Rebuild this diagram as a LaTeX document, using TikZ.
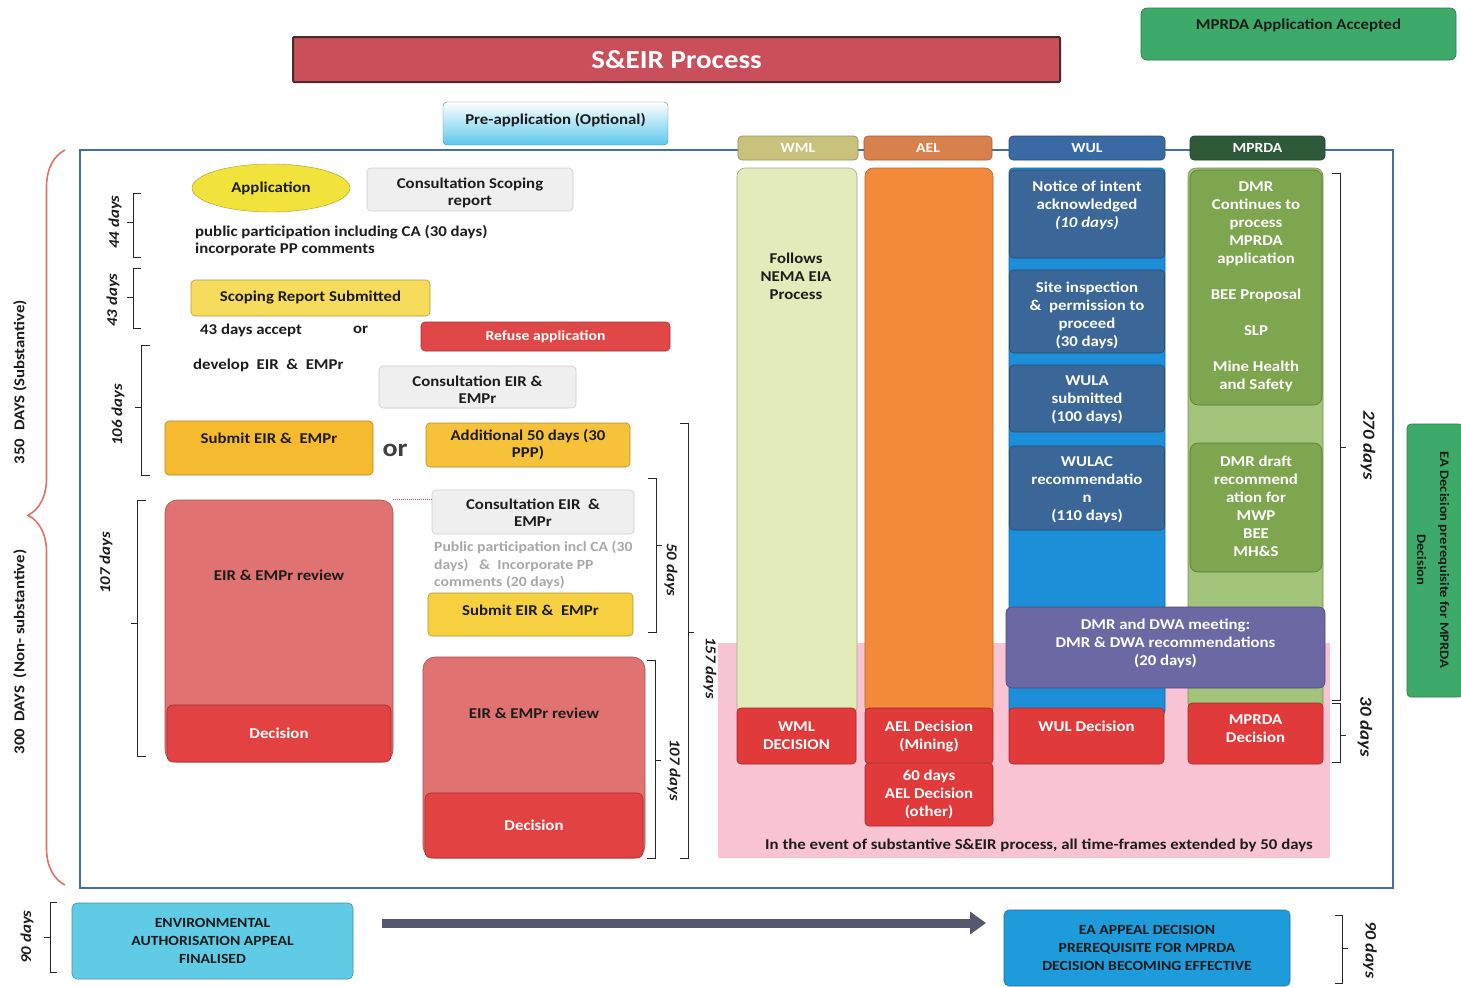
\documentclass[tikz,border=0pt]{standalone}
\usepackage{fontspec}
\setmainfont{Carlito}[FakeStretch=1.12]
\usetikzlibrary{decorations.pathreplacing,arrows.meta,shapes.geometric}
\definecolor{dark}{HTML}{1C1C1C}
\definecolor{titleRed}{HTML}{C9505A}
\definecolor{titleBorder}{HTML}{4A2A2A}
\definecolor{accGreen}{HTML}{3DAA6A}
\definecolor{preBlue}{HTML}{5CC8EC}
\definecolor{frameBlue}{HTML}{44709C}
\definecolor{wmlHead}{HTML}{C8C27C}
\definecolor{aelHead}{HTML}{D8804C}
\definecolor{wulHead}{HTML}{3A6AA4}
\definecolor{mpHead}{HTML}{2E5A3A}
\definecolor{wmlCol}{HTML}{E4EBBA}
\definecolor{aelCol}{HTML}{F28A3A}
\definecolor{wulCol}{HTML}{1D8FD8}
\definecolor{mpCol}{HTML}{A2C47A}
\definecolor{wulBox}{HTML}{3B6698}
\definecolor{mpBox}{HTML}{7DA64E}
\definecolor{purpleC}{HTML}{6B68A4}
\definecolor{decRed}{HTML}{E03A3A}
\definecolor{pinkC}{HTML}{F8C4D4}
\definecolor{appY}{HTML}{F2E23C}
\definecolor{scopY}{HTML}{F6DB5C}
\definecolor{subY}{HTML}{F6BA2E}
\definecolor{addY}{HTML}{F6C23A}
\definecolor{sub2Y}{HTML}{F6D040}
\definecolor{refuseC}{HTML}{E04848}
\definecolor{reviewC}{HTML}{E07272}
\definecolor{reviewD}{HTML}{E24242}
\definecolor{greyBox}{HTML}{EFEFEF}
\definecolor{greyTxt}{HTML}{A8A8A8}
\definecolor{envC}{HTML}{60CBE4}
\definecolor{eaC}{HTML}{1E9BDA}
\definecolor{arrowC}{HTML}{55586E}
\definecolor{braceRed}{HTML}{E0706A}
\begin{document}
\begin{tikzpicture}[x=1pt,y=-1pt,
  box/.style={draw=#1!72!black, fill=#1, rounded corners=4pt, line width=0.6pt, inner sep=1pt},
  sz/.style 2 args={minimum width=#1pt, minimum height=#2pt},
  tx/.style={font=\bfseries\fontsize{15}{17.5}\selectfont, align=center, inner sep=0pt, text=dark},
  wt/.style={tx, text=white},
  wt18/.style={wt, font=\bfseries\fontsize{15}{18}\selectfont},
  lt/.style={font=\bfseries\fontsize{15}{17}\selectfont, inner sep=0pt, text=dark, anchor=west},
  brk/.style={draw=black!85, line width=0.8pt},
  dl/.style={font=\bfseries\itshape\fontsize{15}{17}\selectfont, inner sep=0pt, text=dark},
]
\useasboundingbox (0,0) rectangle (1461,986);
\fill[white] (0,0) rectangle (1461,986);

% title and top boxes
\node[box=titleRed, draw=titleBorder, line width=2pt, rounded corners=1pt, sz={767}{45}, wt, font=\bfseries\fontsize{26}{28}\selectfont] (title) at (676.5,59.5) {S\&EIR Process};
\node[box=accGreen, sz={315}{52}, rounded corners=6pt] (acc) at (1298.5,34) {};
\node[tx] (accT) at (1298.5,25) {MPRDA Application Accepted};
\node[draw=preBlue!70!black, rounded corners=4pt, top color=white, bottom color=preBlue, sz={225}{43}] (pre) at (555.5,123.5) {};
\node[tx] (preT) at (555.5,120) {Pre-application (Optional)};

% main frame
\node[draw=frameBlue, line width=2.5pt, sz={1313}{738}, inner sep=0pt] (frame) at (736.5,519) {};

% pink band
\fill[pinkC] (718,643) rectangle (1330,858);
\node[tx, font=\bfseries\fontsize{15}{17}\selectfont] (note) at (1039,845) {In the event of substantive S\&EIR process, all time-frames extended by 50 days};

% columns
\node[box=wmlCol, sz={120}{547}, rounded corners=8pt] (cWML) at (797,441.5) {};
\node[box=aelCol, sz={128}{547}, rounded corners=8pt] (cAEL) at (929,441.5) {};
\node[box=wulCol, sz={156}{547}] (cWUL) at (1087,441.5) {};
\node[box=mpCol, sz={135}{544}, rounded corners=8pt] (cMP) at (1255.5,440) {};

% headers
\node[box=wmlHead, sz={120}{24}, wt, font=\bfseries\fontsize{14}{16}\selectfont] (hWML) at (798,148) {WML};
\node[box=aelHead, sz={128}{24}, wt, font=\bfseries\fontsize{14}{16}\selectfont] (hAEL) at (928,148) {AEL};
\node[box=wulHead, sz={156}{24}, wt, font=\bfseries\fontsize{14}{16}\selectfont] (hWUL) at (1087,148) {WUL};
\node[box=mpHead, sz={135}{24}, wt, font=\bfseries\fontsize{14}{16}\selectfont] (hMP) at (1257.5,148) {MPRDA};

\node[tx, font=\bfseries\fontsize{15}{18}\selectfont] (wmlT) at (796,276) {Follows\\NEMA EIA\\Process};

% WUL boxes
\node[box=wulBox, sz={155}{88}] (w1) at (1087,214) {};
\node[wt18] (w1t) at (1087,205) {Notice of intent\\acknowledged\\\textit{(10 days)}};
\node[box=wulBox, sz={155}{83}] (w2) at (1087,311.5) {};
\node[wt18] (w2t) at (1087,315) {Site inspection\\\&~ permission to\\proceed\\(30 days)};
\node[box=wulBox, sz={155}{67}] (w3) at (1087,398.5) {};
\node[wt18] (w3t) at (1087,399.5) {WULA\\submitted\\(100 days)};
\node[box=wulBox, sz={155}{84}] (w4) at (1087,488) {};
\node[wt18] (w4t) at (1087,490) {WULAC\\recommendatio\\n\\(110 days)};

% MPRDA boxes
\node[box=mpBox, sz={132}{235}, rounded corners=8pt] (mp1) at (1256,287.5) {};
\node[wt18] (mp1t) at (1256,286.5) {DMR\\Continues to\\process\\MPRDA\\application\\[18pt]BEE Proposal\\[18pt]SLP\\[18pt]Mine Health\\and Safety};
\node[box=mpBox, sz={132}{129}, rounded corners=8pt] (mp2) at (1256,507.5) {};
\node[wt18] (mp2t) at (1256,506) {DMR draft\\recommend\\ation for\\MWP\\BEE\\MH\&S};

% purple meeting
\node[box=purpleC, sz={319}{81}, rounded corners=6pt] (meet) at (1165.5,647.5) {};
\node[wt18] (meetT) at (1165.5,643) {DMR and DWA meeting:\\DMR \& DWA recommendations\\(20 days)};

% decisions
\node[box=decRed, sz={119}{56}, wt18] (dWML) at (796.5,736) {WML\\DECISION};
\node[box=decRed, sz={128}{56}, wt18] (dAEL) at (929,736) {AEL Decision\\(Mining)};
\node[box=decRed, sz={128}{63}, wt18] (dAEL2) at (929,794.5) {60 days\\AEL Decision\\(other)};
\node[box=decRed, sz={155}{56}] (dWUL) at (1086.5,736) {};
\node[wt18] (dWULt) at (1086.5,726) {WUL Decision};
\node[box=decRed, sz={135}{61}] (dMP) at (1255.5,733.5) {};
\node[wt18] (dMPt) at (1255.5,729) {MPRDA\\Decision};

% left side process
\node[draw=appY!70!black, fill=appY, ellipse, sz={158}{48}, tx] (app) at (271,188) {Application};
\node[box=greyBox, draw=black!20, sz={206}{43}] (cs) at (470,189.5) {};
\node[tx, font=\bfseries\fontsize{15}{17}\selectfont] (cst) at (470,193) {Consultation Scoping\\report};
\node[lt] (pp1) at (195,232) {public participation including CA (30 days)};
\node[lt] (pp2) at (195,249) {incorporate PP comments};
\node[box=scopY, sz={239}{36}, tx] (scop) at (310.5,298) {Scoping Report Submitted};
\node[lt] (acc43) at (200,330) {43 days accept};
\node[lt] (or1) at (353,330) {or};
\node[box=refuseC, sz={249}{29}, wt, font=\bfseries\fontsize{14}{16}\selectfont] (refuse) at (545.5,336.5) {Refuse application};
\node[lt] (dev) at (193,365) {develop~ EIR~ \&~ EMPr};
\node[box=greyBox, draw=black!20, sz={197}{42}] (ce1) at (477.5,387) {};
\node[tx, font=\bfseries\fontsize{15}{17}\selectfont] (ce1t) at (477.5,390) {Consultation EIR \&\\EMPr};
\node[box=subY, sz={208}{54}] (sub1) at (269,448) {};
\node[tx] (sub1t) at (269,438) {Submit EIR \&~ EMPr};
\node[tx, font=\bfseries\fontsize{25}{27}\selectfont, text=black!75] (or2) at (395,450) {or};
\node[box=addY, sz={204}{44}, tx, font=\bfseries\fontsize{15}{17}\selectfont] (add50) at (528,445) {Additional 50 days (30\\PPP)};

\node[box=reviewC, sz={228}{262}, rounded corners=12pt] (rev1) at (279,631) {};
\node[box=reviewD, sz={224}{57}, rounded corners=6pt, wt] (dec1) at (279,733.5) {Decision};
\node[tx] (rev1t) at (279,575) {EIR \& EMPr review};

\node[box=greyBox, draw=black!20, sz={202}{44}] (ce2) at (533,512) {};
\node[tx, font=\bfseries\fontsize{15}{17}\selectfont] (ce2t) at (533,512.5) {Consultation EIR~ \&\\EMPr};
\draw[draw=reviewD, densely dotted, line width=1pt] (rev1.north east) -- (rev1.north east -| ce2.west);
\node[lt, text=greyTxt, font=\bfseries\fontsize{14}{17}\selectfont] (g1) at (434,547) {Public participation incl CA (30};
\node[lt, text=greyTxt, font=\bfseries\fontsize{14}{17}\selectfont] (g2) at (434,565) {days)~~ \&~ Incorporate PP};
\node[lt, text=greyTxt, font=\bfseries\fontsize{14}{17}\selectfont] (g3) at (434,582) {comments (20 days)};
\node[box=sub2Y, sz={205}{43}] (sub2) at (530.5,614.5) {};
\node[tx] (sub2t) at (530.5,610) {Submit EIR \&~ EMPr};

\node[box=reviewC, sz={222}{201}, rounded corners=12pt] (rev2) at (534,757.5) {};
\node[box=reviewD, sz={218}{65}, rounded corners=6pt, wt] (dec2) at (534,825.5) {Decision};
\node[tx] (rev2t) at (534,713) {EIR \& EMPr review};

% big brace
\draw[draw=braceRed, line width=1.6pt, decorate, decoration={brace, amplitude=37pt, aspect=0.503}] (65,885) -- (65,150);
\node[font=\bfseries\fontsize{15}{17}\selectfont, rotate=90, text=dark, inner sep=0pt] (d350) at (20,382) {350~~DAYS (Substantive)};
\node[font=\bfseries\fontsize{15}{17}\selectfont, rotate=90, text=dark, inner sep=0pt] (d300) at (20,652) {300~~DAYS~ (Non- substantive)};

% left brackets
\draw[brk] (141,193) -- (133,193) -- (133,257) -- (141,257) (133,222) -- (127,222);
\node[dl, rotate=90] (l44) at (115,222) {44 days};
\draw[brk] (141,268) -- (133,268) -- (133,328) -- (141,328) (133,297) -- (127,297);
\node[dl, rotate=90] (l43) at (113,300) {43 days};
\draw[brk] (150,345) -- (141,345) -- (141,475) -- (150,475) (141,407) -- (135,407);
\node[dl, rotate=90] (l106) at (118,415) {106 days};
\draw[brk] (146,500) -- (137,500) -- (137,756) -- (146,756) (137,623) -- (131,623);
\node[dl, rotate=90] (l107) at (106,563) {107 days};
\draw[brk] (57,902) -- (50,902) -- (50,972) -- (57,972) (50,937) -- (44,937);
\node[dl, rotate=90] (l90) at (27,937) {90 days};

% right brackets
\draw[brk] (648,478) -- (656,478) -- (656,632) -- (648,632) (656,545) -- (662,545);
\node[dl, rotate=-90] (r50) at (671,570) {50 days};
\draw[brk] (680,423) -- (688,423) -- (688,858) -- (680,858) (688,632) -- (694,632);
\node[dl, rotate=-90] (r157) at (710,668) {157 days};
\draw[brk] (647,660) -- (655,660) -- (655,858) -- (647,858) (655,760) -- (661,760);
\node[dl, rotate=-90] (r107) at (674,770) {107 days};
\draw[brk] (1332,173) -- (1340,173) -- (1340,700) -- (1332,700) (1340,447) -- (1346,447);
\node[dl, rotate=-90, font=\bfseries\itshape\fontsize{17}{19}\selectfont] (r270) at (1368,445) {270 days};
\draw[brk] (1332,703) -- (1340,703) -- (1340,762) -- (1332,762) (1340,735) -- (1346,735);
\node[dl, rotate=-90, font=\bfseries\itshape\fontsize{17}{19}\selectfont] (r30) at (1365,727) {30 days};
\draw[brk] (1335,915) -- (1342,915) -- (1342,983) -- (1335,983) (1342,948) -- (1348,948);
\node[dl, rotate=-90, font=\bfseries\itshape\fontsize{16}{18}\selectfont] (r90) at (1370,950) {90 days};

% right green box
\node[box=accGreen, sz={56}{273}] (eaDec) at (1435,560.5) {};
\node[tx, rotate=-90, font=\bfseries\fontsize{13}{23}\selectfont] (eaDecT) at (1433,560) {EA Decision prerequisite for MPRDA\\Decision};

% bottom
\node[box=envC, sz={281}{76}, rounded corners=5pt, tx, font=\bfseries\fontsize{14}{18}\selectfont] (env) at (212.5,941) {ENVIRONMENTAL\\AUTHORISATION APPEAL\\FINALISED};
\node[box=eaC, sz={286}{76}, rounded corners=5pt, tx, font=\bfseries\fontsize{14}{18}\selectfont] (ea) at (1147,948) {EA APPEAL DECISION\\PREREQUISITE FOR MPRDA\\DECISION BECOMING EFFECTIVE};
\coordinate (arS) at (382,923);
\coordinate (arE) at (986,923);
\draw[draw=arrowC, line width=9pt, -{Triangle[length=16pt,width=22pt]}] (arS) -- (arE);
\end{tikzpicture}
\end{document}
